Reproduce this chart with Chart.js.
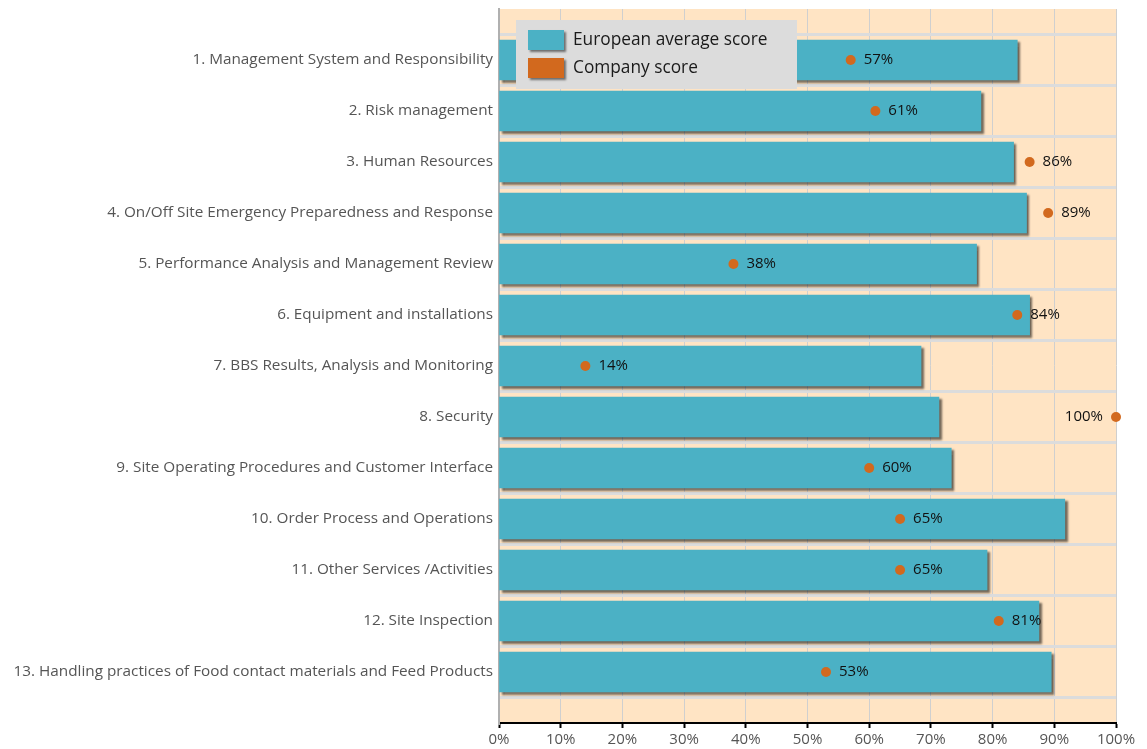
<!DOCTYPE html>
<html>
<head>
<meta charset="utf-8">
<script src="https://cdn.jsdelivr.net/npm/chart.js@4.4.1/dist/chart.umd.min.js"></script>
<style>
html,body{margin:0;padding:0;background:#fff;}
#wrap{width:1147px;height:749px;position:relative;}
</style>
</head>
<body>
<div id="wrap"><canvas id="c"></canvas></div>
<script>
const categories = [
  "1. Management System and Responsibility",
  "2. Risk management",
  "3. Human Resources",
  "4. On/Off Site Emergency Preparedness and Response",
  "5. Performance Analysis and Management Review",
  "6. Equipment and installations",
  "7. BBS Results, Analysis and Monitoring",
  "8. Security",
  "9. Site Operating Procedures and Customer Interface",
  "10. Order Process and Operations",
  "11. Other Services /Activities",
  "12. Site Inspection",
  "13. Handling practices of Food contact materials and Feed Products"
];
const europeanAverage = [84.0, 78.1, 83.4, 85.5, 77.4, 86.0, 68.4, 71.3, 73.3, 91.7, 79.1, 87.5, 89.5];
const companyScore = [57, 61, 86, 89, 38, 84, 14, 100, 60, 65, 65, 81, 53];
const xTicks = [0, 10, 20, 30, 40, 50, 60, 70, 80, 90, 100];
const seriesNames = ["European average score", "Company score"];

const barColor = "#4BB1C5";
const dotColor = "#D2691E";

// pad with an empty slot on each side (half-category margin at top and bottom)
const labels = [""].concat(categories, [""]);
const barData = [null].concat(europeanAverage, [null]);
const dotData = [null].concat(companyScore, [null]);

const FONT = "'Open Sans', 'Noto Sans', sans-serif";
Chart.defaults.font.family = FONT;

const bgPlugin = {
  id: "bg",
  beforeDraw(chart) {
    const {ctx, chartArea: a} = chart;
    ctx.save();
    ctx.fillStyle = "#FFE4C4";
    ctx.fillRect(a.left, a.top, a.right - a.left, a.bottom - a.top);
    ctx.restore();
  }
};

const shadowPlugin = {
  id: "shadow",
  beforeDatasetDraw(chart, args) {
    if (args.index === 0) {
      const ctx = chart.ctx;
      ctx.save();
      ctx.shadowColor = "rgba(0,0,0,0.55)";
      ctx.shadowBlur = 2;
      ctx.shadowOffsetX = 2.5;
      ctx.shadowOffsetY = 2.5;
    }
  },
  afterDatasetDraw(chart, args) {
    if (args.index === 0) chart.ctx.restore();
  }
};

const overlayPlugin = {
  id: "overlay",
  afterDatasetsDraw(chart) {
    const ctx = chart.ctx;
    const a = chart.chartArea;
    // value labels next to dots
    const meta = chart.getDatasetMeta(1);
    ctx.save();
    ctx.font = "15px " + FONT;
    ctx.fillStyle = "#111";
    ctx.textBaseline = "middle";
    meta.data.forEach((pt, i) => {
      const v = dotData[i];
      if (v === null || v === undefined) return;
      const txt = v + "%";
      if (v >= 98) {
        ctx.textAlign = "right";
        ctx.fillText(txt, pt.x - 13, pt.y);
      } else {
        ctx.textAlign = "left";
        ctx.fillText(txt, pt.x + 13, pt.y);
      }
    });
    ctx.restore();

    // legend box
    const lx = a.left + 17, ly = 20, lw = 281, lh = 69;
    ctx.save();
    ctx.fillStyle = "#DCDCDC";
    ctx.fillRect(lx, ly, lw, lh);
    const colors = [barColor, dotColor];
    colors.forEach((c, i) => {
      const sy = ly + 10 + i * 28;
      ctx.save();
      ctx.shadowColor = "rgba(0,0,0,0.5)";
      ctx.shadowBlur = 2;
      ctx.shadowOffsetX = 2;
      ctx.shadowOffsetY = 2;
      ctx.fillStyle = c;
      ctx.fillRect(lx + 12, sy, 36, 20);
      ctx.restore();
      ctx.font = "17.3px " + FONT;
      ctx.fillStyle = "#1a1a1a";
      ctx.textAlign = "left";
      ctx.textBaseline = "middle";
      ctx.fillText(seriesNames[i], lx + 57, sy + 10);
    });
    ctx.restore();
  }
};

new Chart(document.getElementById("c"), {
  type: "bar",
  data: {
    labels: labels,
    datasets: [
      {
        label: seriesNames[0],
        data: barData,
        backgroundColor: barColor,
        borderWidth: 0,
        barThickness: 40,
        order: 2
      },
      {
        type: "line",
        label: seriesNames[1],
        data: dotData,
        indexAxis: "y",
        showLine: false,
        pointRadius: 5,
        pointHoverRadius: 5,
        pointBackgroundColor: dotColor,
        pointBorderWidth: 0,
        borderColor: dotColor,
        clip: false,
        order: 1
      }
    ]
  },
  options: {
    indexAxis: "y",
    responsive: true,
    maintainAspectRatio: false,
    animation: false,
    events: [],
    layout: { padding: { left: 0, right: 31, top: 9, bottom: 0 } },
    plugins: { legend: { display: false }, tooltip: { enabled: false } },
    scales: {
      x: {
        type: "linear",
        min: 0,
        max: 100,
        afterBuildTicks(scale) { scale.ticks = xTicks.map(v => ({ value: v })); },
        afterFit(scale) { scale.height = 26; scale.paddingLeft = 0; scale.paddingRight = 0; },
        ticks: {
          callback: v => v + "%",
          color: "#555",
          font: { size: 15 },
          padding: 3,
          maxRotation: 0
        },
        grid: {
          color: "#CFCFCF",
          lineWidth: 1,
          tickLength: 5,
          tickColor: "#000",
          tickWidth: 2
        },
        border: { display: true, color: "#000", width: 2 }
      },
      y: {
        type: "category",
        offset: false,
        afterFit(scale) { scale.width = 499; scale.paddingTop = 0; scale.paddingBottom = 0; },
        ticks: {
          color: "#555",
          font: { size: 15.3 },
          padding: 6,
          autoSkip: false
        },
        grid: {
          offset: true,
          color: "#DCDCDC",
          lineWidth: 3,
          drawTicks: false
        },
        border: { display: true, color: "#B0B0B0", width: 2 }
      }
    }
  },
  plugins: [bgPlugin, shadowPlugin, overlayPlugin]
});
</script>
</body>
</html>
